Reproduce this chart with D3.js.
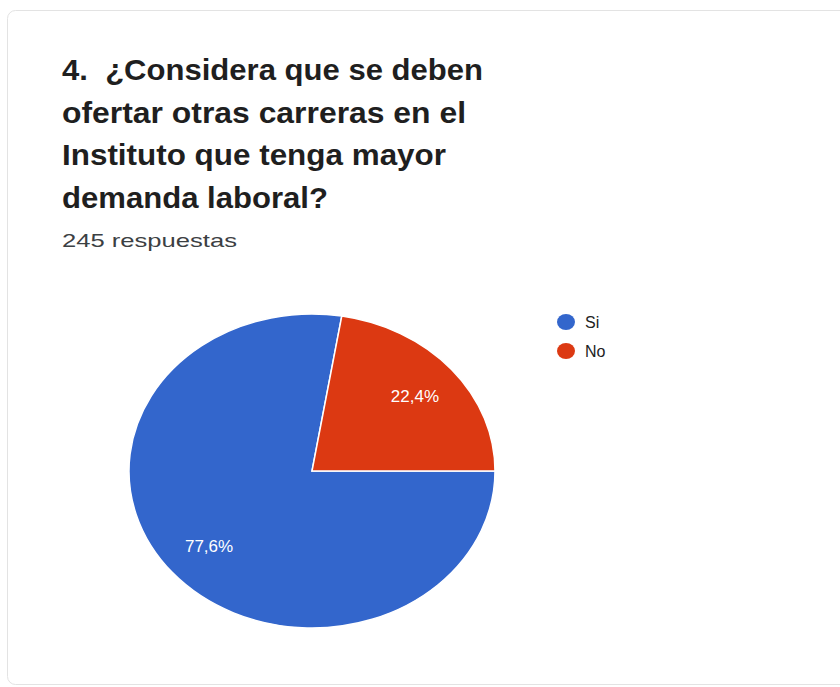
<!DOCTYPE html>
<html>
<head>
<meta charset="utf-8">
<script src="https://cdn.jsdelivr.net/npm/d3@7"></script>
<style>
  html, body { margin: 0; padding: 0; background: #ffffff; }
  svg { display: block; font-family: "Liberation Sans", Arial, sans-serif; }
  text { white-space: pre; }
</style>
</head>
<body>
<div id="chart"></div>
<script>
const titleLines = ['4.  ¿Considera que se deben', 'ofertar otras carreras en el', 'Instituto que tenga mayor', 'demanda laboral?'];
const titleWidths = [421, 404, 384, 266];
const subtitle = '245 respuestas';
const categories = ['Si', 'No'];
const shares = [77.6, 22.4];
const colors = ['#3366cc', '#dc3912'];

const W = 840, H = 687;
const svg = d3.select('#chart').append('svg').attr('width', W).attr('height', H);

// card
svg.append('rect')
  .attr('x', 7.5).attr('y', 10.5)
  .attr('width', 860).attr('height', 674)
  .attr('rx', 8)
  .attr('fill', '#ffffff')
  .attr('stroke', '#e3e3e3');

// title (the reference is stretched sideways, so fit each line to its width)
svg.append('g').selectAll('text')
  .data(titleLines)
  .join('text')
  .attr('x', 62)
  .attr('y', (d, i) => 80 + i * 42.5)
  .attr('font-size', '30px')
  .attr('font-weight', 700)
  .attr('fill', '#1f1f1f')
  .attr('textLength', (d, i) => titleWidths[i])
  .attr('lengthAdjust', 'spacingAndGlyphs')
  .text(d => d);

svg.append('text')
  .attr('x', 62).attr('y', 247)
  .attr('font-size', '19px')
  .attr('fill', '#3c4043')
  .attr('textLength', 175)
  .attr('lengthAdjust', 'spacingAndGlyphs')
  .text(subtitle);

// pie (squashed like the reference)
const cx = 312, cy = 471, rx = 183, ry = 157;
const sy = ry / rx;
const data = categories.map((c, i) => ({ cat: c, value: shares[i], color: colors[i] }));

const pie = d3.pie().value(d => d.value).sort(null)
  .startAngle(Math.PI / 2).endAngle(Math.PI / 2 + 2 * Math.PI);
const arcs = pie(data);
const arc = d3.arc().innerRadius(0).outerRadius(rx);
const labelArc = d3.arc().innerRadius(135).outerRadius(135);

svg.append('g')
  .attr('transform', `translate(${cx},${cy}) scale(1,${sy})`)
  .selectAll('path')
  .data(arcs)
  .join('path')
  .attr('d', arc)
  .attr('fill', d => d.data.color)
  .attr('stroke', '#ffffff')
  .attr('stroke-width', 1.5)
  .attr('vector-effect', 'non-scaling-stroke');

svg.append('g')
  .selectAll('text')
  .data(arcs)
  .join('text')
  .attr('x', d => cx + labelArc.centroid(d)[0])
  .attr('y', d => cy + labelArc.centroid(d)[1] * sy)
  .attr('dy', '0.35em')
  .attr('text-anchor', 'middle')
  .attr('font-size', '17px')
  .attr('fill', '#ffffff')
  .text(d => d.data.value.toFixed(1).replace('.', ',') + '%');

// legend
const legend = svg.append('g').attr('transform', 'translate(566,322)');
const items = legend.selectAll('g')
  .data(data)
  .join('g')
  .attr('transform', (d, i) => `translate(0,${i * 29})`);
items.append('ellipse').attr('rx', 9).attr('ry', 8).attr('fill', d => d.color);
items.append('text')
  .attr('x', 19).attr('dy', '0.35em')
  .attr('font-size', '16px')
  .attr('fill', '#222222')
  .text(d => d.cat);
</script>
</body>
</html>
